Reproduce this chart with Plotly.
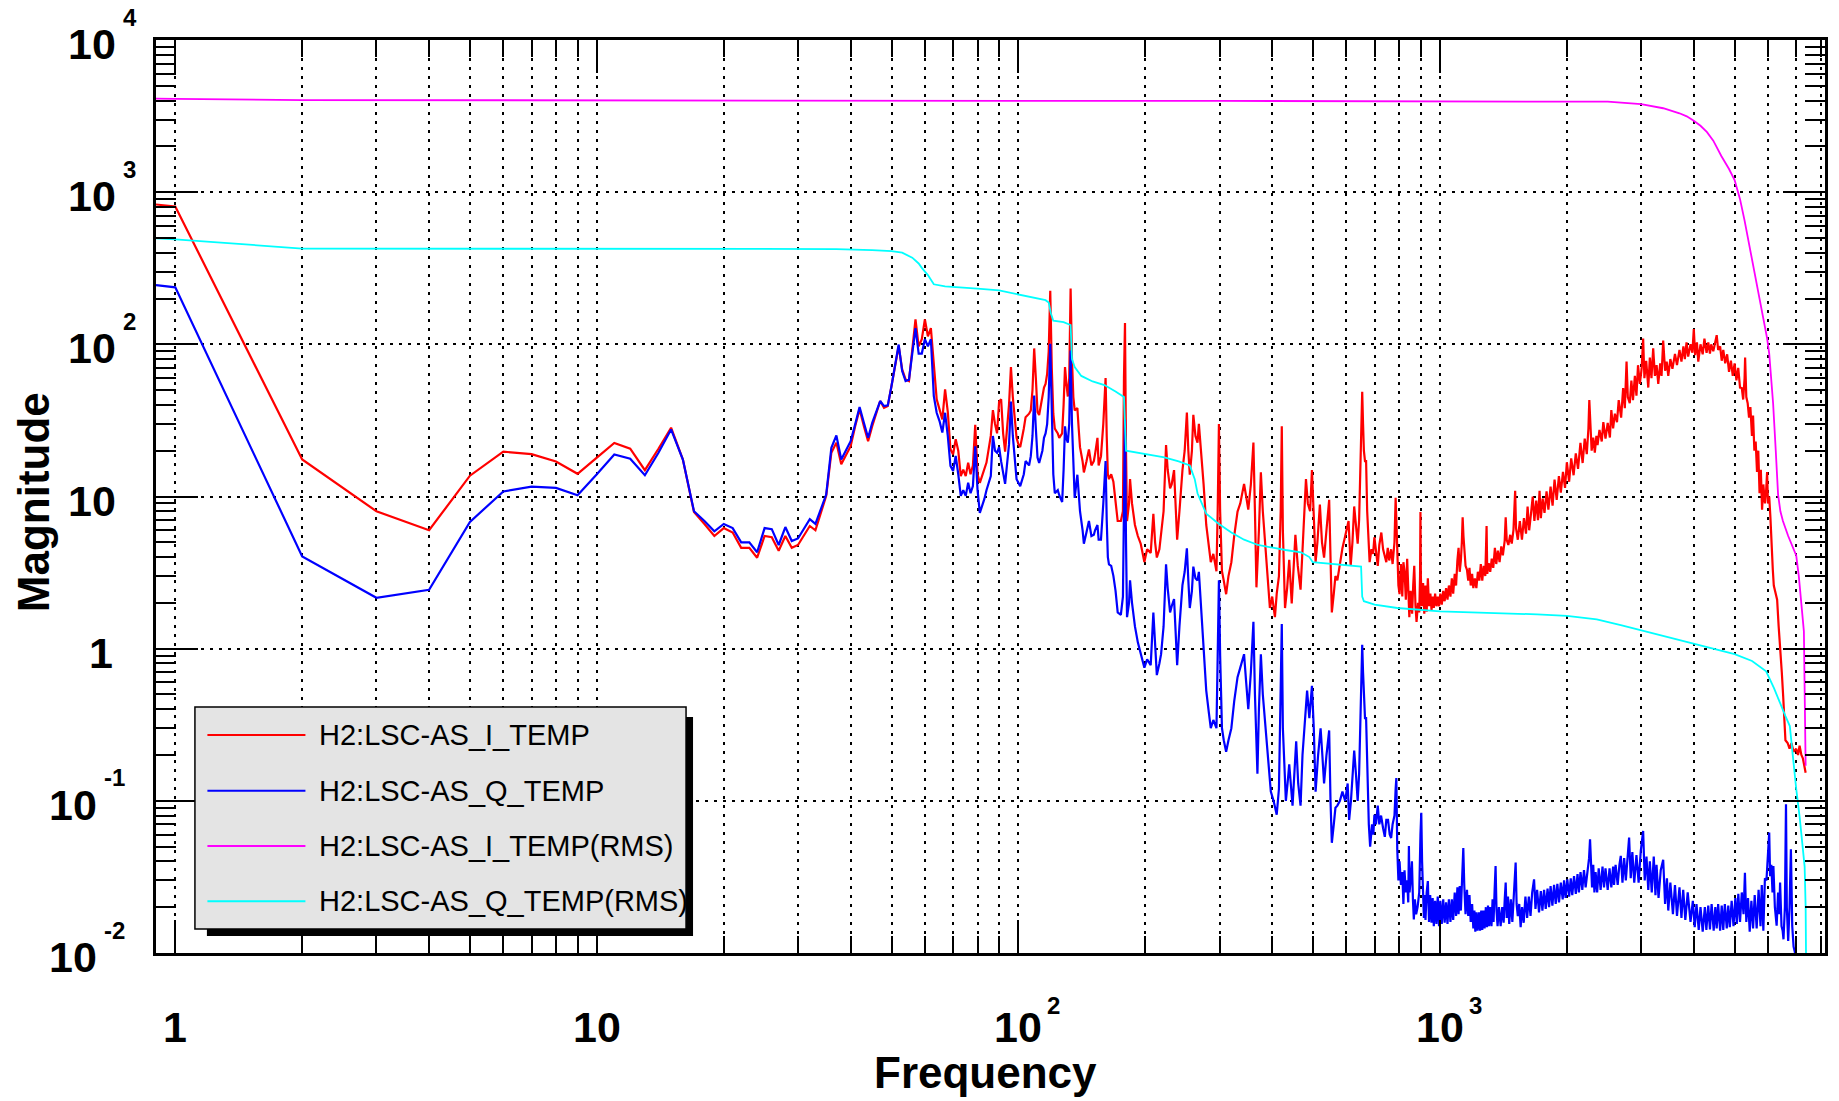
import math
import plotly.graph_objects as go

# ---------------------------------------------------------------------------
# Amplitude spectra (frequency in Hz, magnitude) for the two demodulated
# channels and their cumulative RMS curves.
# ---------------------------------------------------------------------------
spec_i = [
    (0.9, 830), (1, 805), (2, 17.5), (3, 8.0), (4, 6.0), (5, 13.7), (6, 19.7), (7, 19.0), (8, 17.0),
    (9, 14.1), (10, 18.0), (11, 22.5), (12, 20.6), (13, 14.9), (14, 20.6), (15, 28.3), (16, 17.5),
    (17, 7.9), (18, 6.6), (19, 5.5), (20, 6.2), (21, 5.8), (22, 4.6), (23, 4.6), (24, 3.96), (25, 5.5),
    (26, 5.4), (27, 4.4), (28, 5.5), (29, 4.6), (30, 4.8), (31, 5.5), (32, 6.4), (33, 6.0), (34, 7.8),
    (35, 10.1), (36, 19.4), (37, 22.6), (38, 16.3), (39, 18.9), (40, 21.4), (41, 29), (42, 37.4),
    (43, 29), (44, 23.1), (45, 29), (46, 35.5), (47, 42.4), (48, 38.3), (49, 39.3), (50, 53.2),
    (51, 73.8), (52, 97.3), (53, 68.4), (54, 58.8), (55, 57.3), (56, 92.6), (57, 146), (58, 97),
    (59, 108), (60, 146), (61, 113), (62, 128), (63, 72), (64, 43.5), (65, 37.4), (66, 32.1),
    (67, 50.6), (68, 36), (69, 20.4), (70, 18.9), (71, 23.8), (72, 20), (73, 13.6), (74, 15),
    (75, 13.6), (76, 16.7), (77, 14), (78, 16), (79, 29.6), (80, 14), (81, 12.3), (83, 15), (84, 16.7),
    (86, 25), (87, 37), (88, 30), (89, 26), (90, 42), (91, 43.5), (92, 26), (93, 19.7), (95, 40),
    (96, 71), (97, 45), (99, 24.3), (100, 22), (101, 21.1), (103, 28), (104, 33.2), (106, 35),
    (107, 36.8), (108, 50), (109, 94), (110, 60), (111, 36), (112, 34.3), (114, 45), (115, 52),
    (116, 55), (117, 64), (118, 90), (119, 225), (120, 70), (121, 35), (122, 27.9), (124, 26),
    (125, 24.3), (127, 26), (128, 40), (129, 71), (130, 55), (131, 45.4), (132, 60), (133, 233),
    (134, 80), (135, 45), (136, 36.8), (138, 38.1), (139, 28), (140, 21.1), (142, 17), (143, 14.4),
    (145, 17), (147, 20.4), (149, 16), (151, 17.1), (152, 19), (154, 24.3), (155, 16), (157, 18.4),
    (159, 30), (160, 50), (161, 60), (162, 25), (163, 14), (164, 13.0), (166, 14), (168, 12.5),
    (170, 9), (172, 6.9), (175, 6.9), (177, 8), (178, 60), (179, 138), (180, 20), (181, 6.9),
    (183, 9), (184, 13.0), (186, 9), (189, 6.5), (192, 5.5), (195, 4.9), (199, 3.71), (202, 4.5),
    (206, 4.26), (209, 7.7), (211, 5), (213, 3.97), (216, 4.5), (218, 5.6), (221, 8), (224, 21.8),
    (226, 15), (229, 11.3), (231, 12), (234, 14.9), (236, 9), (238, 5.2), (241, 8), (245, 14.9),
    (248, 20), (251, 35.6), (253, 20), (255, 13.9), (258, 20), (260, 34.4), (263, 25), (266, 22.6),
    (268, 30), (271, 21.1), (275, 12), (279, 6.5), (283, 4.5), (286, 3.7), (290, 4.2), (295, 3.23),
    (297, 8), (299, 29.9), (301, 8), (304, 3.23), (307, 2.8), (311, 2.28), (315, 3.0), (320, 3.7),
    (325, 5.5), (331, 7.96), (336, 9), (343, 12.1), (347, 10), (351, 8.2), (356, 12), (361, 22.6),
    (364, 8), (367, 2.53), (372, 6), (376, 14.4), (380, 8), (385, 4.9), (390, 3), (395, 1.85),
    (400, 2.2), (406, 1.61), (410, 2.3), (415, 3), (419, 8), (421.5, 28.9), (424, 6), (429, 1.85),
    (434, 2.5), (439, 3.84), (445, 1.98), (449, 3), (454, 5.6), (460, 3.5), (467, 2.44), (473, 5),
    (477, 9), (481, 13.0), (486, 9), (492, 8), (497, 14.9), (502, 8), (507, 3.7), (512, 5),
    (519, 8.85), (525, 5), (531, 3.97), (538, 6), (546, 9.5), (550, 4), (554, 1.73), (560, 2.3),
    (565, 3.0), (571, 2.81), (579, 3.6), (587, 4.57), (596, 5.5), (607, 6.9), (614, 3.5), (620, 5),
    (626, 8.6), (632, 6), (638, 4.9), (643, 7), (648, 15), (652, 35), (654, 48.7), (657, 30),
    (660, 20), (664, 17.1), (668, 17.1), (672, 8), (676, 5), (681, 3.7), (688, 4.5), (694, 4.2),
    (699, 5.4), (705, 4.5), (712, 3.5), (718, 4.8), (726, 5.8), (733, 4.5), (740, 4.0), (746, 3.7),
    (752, 4.6), (758, 3.8), (766, 4.5), (772, 3.6), (780, 5), (785, 9.8), (788, 7), (792, 4.1),
    (797, 2.6), (802, 2.28), (808, 3.6), (814, 2.2), (819, 3.7), (824, 3.23), (830, 2.1), (836, 3.9),
    (841, 2.0), (846, 1.61), (852, 2.4), (859, 1.7), (864, 2.6), (869, 3.5), (875, 1.9), (880, 1.5),
    (887, 2.0), (893, 1.73), (897, 3), (899, 7.9), (901, 3), (905, 1.9), (912, 2.7), (918, 1.7),
    (924, 2.6), (930, 1.75), (936, 2.9), (942, 1.9), (949, 2.3), (955, 1.8), (961, 2.2), (967, 1.85),
    (974, 2.3), (981, 1.9), (988, 2.2), (995, 1.9), (1002, 2.3), (1010, 1.95), (1018, 2.4),
    (1026, 2.05), (1034, 2.5), (1042, 2.1), (1050, 2.6), (1059, 2.2), (1067, 2.9), (1075, 2.3),
    (1084, 3.1), (1092, 2.6), (1100, 3.8), (1107, 4.6), (1114, 3.2), (1121, 3.8), (1127, 5),
    (1132, 7.3), (1137, 5.5), (1143, 4.2), (1150, 3.5), (1159, 3.3), (1167, 2.8), (1175, 3.4),
    (1183, 2.6), (1192, 3.1), (1200, 2.5), (1210, 2.9), (1220, 2.5), (1230, 3.2), (1240, 2.8),
    (1250, 3.6), (1260, 2.8), (1270, 3.5), (1281, 3.0), (1290, 6.4), (1295, 3.1), (1305, 3.65),
    (1316, 3.2), (1327, 3.9), (1338, 3.4), (1350, 4.6), (1360, 3.6), (1372, 4.4), (1385, 3.7),
    (1398, 4.7), (1410, 4.1), (1424, 5.1), (1432, 7.3), (1440, 5.2), (1453, 4.8), (1468, 5.6),
    (1480, 4.9), (1494, 6.0), (1502, 8), (1508, 10.9), (1515, 6.2), (1530, 5.2), (1547, 6.9),
    (1565, 5.2), (1582, 7.2), (1600, 5.7), (1614, 8.6), (1628, 6.0), (1645, 7.8), (1660, 10.0),
    (1675, 6.9), (1692, 9.4), (1708, 7.0), (1723, 10.9), (1735, 7.2), (1752, 9.7), (1770, 7.8),
    (1790, 10.8), (1808, 8.2), (1830, 11.6), (1850, 8.7), (1870, 12.9), (1892, 9.5), (1915, 13.6),
    (1935, 10.6), (1958, 14.5), (1980, 11.4), (2000, 16.8), (2025, 12.5), (2048, 17.8), (2075, 13.8),
    (2100, 19.2), (2126, 15.2), (2154, 22.5), (2180, 16.6), (2205, 24), (2230, 19), (2250, 28),
    (2261, 43), (2275, 26), (2290, 20), (2310, 24.4), (2330, 19.4), (2350, 25), (2365, 21.8),
    (2390, 27.4), (2420, 23), (2441, 30.8), (2470, 24), (2500, 30.5), (2530, 24.4), (2550, 37),
    (2575, 28), (2600, 35), (2630, 30.8), (2655, 43), (2690, 33), (2720, 51.6), (2745, 38),
    (2771, 77), (2790, 45), (2820, 41), (2845, 57.8), (2870, 43), (2900, 62), (2925, 46),
    (2950, 72.9), (2980, 55), (3010, 70), (3034, 109), (3055, 60), (3085, 78), (3120, 52),
    (3147, 81.8), (3175, 60), (3205, 94), (3235, 62), (3265, 72.9), (3295, 55), (3330, 75),
    (3355, 62), (3385, 106), (3420, 67), (3450, 77), (3480, 62), (3520, 80), (3560, 69),
    (3610, 86.6), (3650, 73), (3700, 92), (3740, 77), (3780, 97), (3810, 80), (3845, 103),
    (3880, 83), (3930, 100), (3970, 88), (4001, 126), (4030, 85), (4070, 103), (4100, 77),
    (4150, 100), (4200, 86), (4240, 109), (4290, 88), (4330, 103), (4370, 87), (4400, 100),
    (4450, 90), (4500, 104), (4534, 115), (4570, 92), (4620, 97), (4660, 78), (4700, 92),
    (4750, 75), (4800, 86), (4850, 66), (4900, 78), (4950, 62), (5000, 75), (5050, 58), (5100, 70),
    (5150, 52), (5200, 51.6), (5240, 43.4), (5280, 60), (5295, 81.8), (5330, 45), (5370, 41),
    (5410, 33), (5450, 38.7), (5497, 25), (5530, 34), (5570, 20), (5610, 23), (5651, 14.5),
    (5690, 20), (5730, 10.5), (5770, 15), (5809, 8.2), (5850, 12), (5900, 9), (5940, 11),
    (5971, 14.5), (6000, 9), (6040, 10), (6080, 7.3), (6120, 4.5), (6160, 3.3), (6193, 2.6),
    (6250, 2.3), (6307, 2.1), (6360, 1.4), (6424, 0.99), (6470, 0.7), (6518, 0.49), (6560, 0.35),
    (6600, 0.25), (6680, 0.24), (6750, 0.22), (6820, 0.24), (6900, 0.21), (7000, 0.22),
    (7070, 0.2), (7130, 0.23), (7200, 0.2), (7260, 0.19), (7320, 0.17), (7370, 0.153),
]

spec_q = [
    (0.9, 245), (1, 237), (2, 4.04), (3, 2.16), (4, 2.44), (5, 6.8), (6, 10.8), (7, 11.6), (8, 11.4),
    (9, 10.2), (10, 14.0), (11, 18.9), (12, 17.7), (13, 13.8), (14, 19.4), (15, 27.6), (16, 17.5),
    (17, 8.0), (18, 6.9), (19, 5.9), (20, 6.6), (21, 6.2), (22, 5.0), (23, 5.0), (24, 4.3), (25, 6.2),
    (26, 6.1), (27, 4.8), (28, 6.3), (29, 5.1), (30, 5.3), (31, 6.2), (32, 7.1), (33, 6.6), (34, 8.4),
    (35, 10.3), (36, 20.9), (37, 25.2), (38, 17.5), (39, 20.4), (40, 23.1), (41, 29.8), (42, 38.7),
    (43, 30.5), (44, 24.3), (45, 30.5), (46, 36.4), (47, 42.4), (48, 39.3), (49, 39.7), (50, 53.2),
    (51, 73.8), (52, 99.7), (53, 66.7), (54, 57.3), (55, 58.6), (56, 88), (57, 128), (58, 87),
    (59, 87), (60, 108), (61, 97), (62, 108), (63, 45.7), (64, 35.5), (65, 31.3), (66, 26.3),
    (67, 35.5), (68, 25), (69, 15.9), (70, 14.7), (71, 18.5), (72, 14), (73, 10.1), (74, 11),
    (75, 10.1), (76, 12.3), (77, 10.5), (78, 11.7), (79, 21.4), (80, 11), (81, 7.8), (83, 9.6),
    (84, 11), (86, 13.6), (87, 25), (88, 20), (89, 19.4), (90, 21.1), (91, 17), (93, 12.1), (95, 22),
    (96, 42), (97, 25), (99, 13.0), (101, 11.7), (103, 14), (104, 17.1), (106, 16), (107, 18.4),
    (108, 25), (109, 46), (110, 28), (111, 18), (112, 16.6), (114, 20), (115, 24.3), (116, 26),
    (117, 29.9), (118, 45), (119, 101), (120, 30), (121, 14), (122, 10.5), (124, 11), (125, 10.2),
    (127, 9.2), (128, 15), (129, 28.9), (130, 24), (131, 22.6), (132, 30), (133, 91), (134, 30),
    (135, 14), (136, 9.8), (138, 13.9), (139, 10), (140, 8.0), (142, 6), (143, 4.9), (145, 5.8),
    (147, 6.9), (149, 5.5), (151, 5.6), (152, 6), (154, 6.5), (155, 5.2), (157, 5.2), (159, 9),
    (160, 14), (161, 17.1), (162, 7), (163, 4), (164, 3.58), (166, 3.5), (168, 3.01), (170, 2.4),
    (172, 1.73), (175, 1.67), (177, 2.2), (178, 15), (179, 32.1), (180, 5), (181, 1.61), (183, 2.0),
    (184, 2.81), (186, 2.0), (189, 1.40), (192, 1.1), (195, 0.92), (199, 0.75), (202, 0.85),
    (206, 0.78), (209, 1.73), (211, 1.0), (213, 0.67), (216, 0.8), (218, 0.92), (221, 1.4),
    (224, 3.58), (226, 2.5), (229, 1.73), (231, 1.9), (234, 2.12), (236, 1.3), (238, 0.78),
    (241, 1.4), (245, 2.62), (248, 3.2), (251, 4.57), (253, 2.8), (255, 1.85), (258, 2.4),
    (260, 3.46), (263, 2.9), (266, 2.81), (268, 3.2), (271, 1.85), (275, 1.0), (279, 0.53),
    (283, 0.38), (286, 0.30), (290, 0.34), (295, 0.30), (297, 0.9), (299, 2.81), (301, 0.9),
    (304, 0.30), (307, 0.25), (311, 0.21), (315, 0.25), (320, 0.30), (325, 0.45), (331, 0.65),
    (336, 0.75), (343, 0.92), (347, 0.6), (351, 0.40), (356, 0.7), (361, 1.50), (364, 0.5),
    (369, 0.151), (372, 0.4), (376, 0.92), (380, 0.5), (385, 0.325), (390, 0.2), (397, 0.115),
    (403, 0.1), (410, 0.081), (415, 0.12), (419, 0.5), (421.5, 1.45), (424, 0.3), (431, 0.100),
    (435, 0.13), (439, 0.174), (447, 0.093), (451, 0.15), (456, 0.246), (461, 0.13), (467, 0.093),
    (472, 0.2), (478, 0.35), (484, 0.53), (490, 0.35), (497, 0.57), (502, 0.3), (507, 0.115),
    (514, 0.2), (521, 0.30), (526, 0.2), (531, 0.13), (538, 0.2), (546, 0.29), (550, 0.1),
    (554, 0.053), (560, 0.07), (565, 0.09), (571, 0.093), (579, 0.1), (587, 0.115), (596, 0.1),
    (604, 0.13), (609, 0.075), (615, 0.1), (620, 0.15), (626, 0.214), (632, 0.15), (638, 0.100),
    (643, 0.15), (648, 0.4), (652, 0.8), (654, 1.06), (657, 0.7), (661, 0.45), (664, 0.35),
    (668, 0.35), (674, 0.12), (678, 0.07), (683, 0.050), (690, 0.07), (695, 0.06), (699, 0.081),
    (705, 0.07), (712, 0.093), (718, 0.07), (725, 0.08), (733, 0.066), (740, 0.058), (746, 0.075),
    (753, 0.075), (760, 0.06), (766, 0.057), (772, 0.07), (780, 0.08), (785, 0.12), (788, 0.141),
    (792, 0.048), (797, 0.03), (802, 0.040), (808, 0.028), (814, 0.034), (819, 0.021), (824, 0.035),
    (830, 0.025), (836, 0.03), (841, 0.0215), (844, 0.0505), (847, 0.025), (852, 0.03), (858, 0.040),
    (863, 0.022), (867, 0.0166), (872, 0.0225), (878, 0.018), (885, 0.020), (893, 0.025), (899, 0.06),
    (903, 0.0836), (907, 0.04), (912, 0.02), (916, 0.017), (920, 0.024), (924, 0.0165), (930, 0.025),
    (936, 0.0297), (942, 0.016), (948, 0.024), (955, 0.0158), (961, 0.023), (967, 0.015),
    (974, 0.022), (981, 0.0155), (988, 0.0235), (995, 0.015), (1002, 0.022), (1010, 0.0155),
    (1018, 0.0225), (1026, 0.0158), (1034, 0.0215), (1042, 0.0155), (1050, 0.0225), (1059, 0.016),
    (1067, 0.0225), (1075, 0.0165), (1084, 0.025), (1092, 0.0175), (1100, 0.027), (1107, 0.018),
    (1114, 0.0275), (1121, 0.019), (1128, 0.03), (1136, 0.049), (1142, 0.028), (1150, 0.018),
    (1159, 0.026), (1167, 0.0175), (1175, 0.024), (1183, 0.016), (1192, 0.021), (1200, 0.0145),
    (1207, 0.019), (1213, 0.0138), (1220, 0.0185), (1228, 0.014), (1237, 0.0185), (1245, 0.014),
    (1253, 0.019), (1260, 0.0142), (1268, 0.019), (1276, 0.0145), (1285, 0.02), (1293, 0.0148),
    (1300, 0.0205), (1307, 0.015), (1316, 0.02), (1325, 0.015), (1333, 0.0225), (1340, 0.016),
    (1348, 0.026), (1355, 0.0373), (1362, 0.019), (1370, 0.015), (1380, 0.02), (1393, 0.015),
    (1405, 0.02), (1416, 0.0158), (1425, 0.023), (1432, 0.029), (1440, 0.017), (1450, 0.0235),
    (1460, 0.0155), (1473, 0.0225), (1485, 0.016), (1497, 0.023), (1505, 0.028), (1512, 0.0393),
    (1520, 0.021), (1530, 0.0175), (1542, 0.021), (1554, 0.0148), (1566, 0.02), (1580, 0.0158),
    (1595, 0.0235), (1610, 0.017), (1625, 0.0235), (1640, 0.0175), (1655, 0.025), (1665, 0.028),
    (1672, 0.0305), (1685, 0.0195), (1700, 0.026), (1718, 0.0185), (1735, 0.0255), (1750, 0.019),
    (1766, 0.026), (1782, 0.0195), (1800, 0.0265), (1815, 0.02), (1830, 0.0275), (1848, 0.0205),
    (1865, 0.028), (1882, 0.021), (1899, 0.0285), (1916, 0.0215), (1935, 0.029), (1955, 0.0225),
    (1970, 0.03), (1986, 0.023), (2005, 0.0305), (2025, 0.0235), (2043, 0.031), (2060, 0.024),
    (2080, 0.032), (2100, 0.0245), (2120, 0.033), (2136, 0.025), (2155, 0.034), (2176, 0.026),
    (2196, 0.035), (2216, 0.027), (2240, 0.036), (2258, 0.042), (2270, 0.0558), (2282, 0.036),
    (2295, 0.027), (2310, 0.038), (2325, 0.025), (2340, 0.034), (2360, 0.025), (2380, 0.036),
    (2405, 0.026), (2430, 0.037), (2450, 0.027), (2470, 0.036), (2500, 0.026), (2525, 0.036),
    (2550, 0.027), (2575, 0.037), (2588, 0.028), (2610, 0.038), (2640, 0.028), (2665, 0.038),
    (2685, 0.0435), (2710, 0.029), (2735, 0.042), (2760, 0.03), (2790, 0.045), (2810, 0.0573),
    (2835, 0.031), (2860, 0.046), (2890, 0.029), (2925, 0.044), (2960, 0.029), (2995, 0.047),
    (3034, 0.0634), (3060, 0.03), (3090, 0.043), (3120, 0.026), (3147, 0.04), (3180, 0.025),
    (3215, 0.043), (3245, 0.024), (3264, 0.038), (3300, 0.023), (3340, 0.035), (3385, 0.041),
    (3420, 0.021), (3455, 0.031), (3480, 0.019), (3520, 0.029), (3570, 0.018), (3610, 0.028),
    (3650, 0.0175), (3700, 0.027), (3740, 0.017), (3776, 0.026), (3820, 0.0165), (3870, 0.025),
    (3930, 0.016), (3980, 0.022), (4021, 0.0148), (4060, 0.021), (4110, 0.0142), (4150, 0.02),
    (4200, 0.0138), (4250, 0.02), (4285, 0.0142), (4330, 0.0205), (4370, 0.0143), (4410, 0.021),
    (4460, 0.014), (4500, 0.02), (4534, 0.0145), (4570, 0.021), (4620, 0.014), (4660, 0.0205),
    (4700, 0.0142), (4740, 0.021), (4790, 0.0145), (4830, 0.0205), (4870, 0.0148), (4920, 0.022),
    (4970, 0.015), (5020, 0.023), (5060, 0.0155), (5102, 0.0245), (5150, 0.016), (5200, 0.025),
    (5250, 0.018), (5290, 0.0337), (5330, 0.016), (5380, 0.023), (5430, 0.0138), (5480, 0.022),
    (5530, 0.0145), (5580, 0.024), (5640, 0.0145), (5700, 0.026), (5760, 0.015), (5800, 0.028),
    (5850, 0.014), (5900, 0.031), (5950, 0.03), (5990, 0.04), (6040, 0.0618), (6070, 0.032),
    (6110, 0.038), (6150, 0.025), (6180, 0.0373), (6230, 0.02), (6290, 0.0151), (6340, 0.025),
    (6380, 0.018), (6410, 0.029), (6460, 0.015), (6500, 0.014), (6530, 0.0123), (6580, 0.02),
    (6620, 0.095), (6650, 0.02), (6700, 0.012), (6750, 0.02), (6800, 0.048), (6850, 0.015),
    (6900, 0.011), (6950, 0.0101), (7010, 0.0085),
]

rms_i = [
    (0.9, 4120), (1, 4100), (2, 4030), (5, 4010), (10, 4000), (30, 3990), (100, 3985), (300, 3980),
    (1000, 3975), (2000, 3965), (2500, 3930), (3000, 3790), (3385, 3560), (3700, 3300),
    (3850, 3150), (4000, 2950), (4150, 2730), (4300, 2480), (4450, 2180), (4650, 1730),
    (4850, 1420), (5000, 1200), (5150, 900), (5280, 650), (5450, 410), (5630, 255), (5840, 146),
    (5970, 110), (6040, 87), (6170, 41), (6260, 20), (6340, 10.3), (6420, 8.0), (6510, 6.9),
    (6700, 5.5), (7000, 4.1), (7100, 3.0), (7190, 2.05), (7300, 1.3), (7370, 0.17),
]

rms_q = [
    (0.9, 497), (1, 490), (2, 426), (5, 425), (10, 425), (20, 425), (30, 424), (37, 423), (45, 416),
    (50, 410), (53, 400), (56, 371), (58, 340), (59, 318), (61, 285), (63, 248), (67, 240), (71, 238),
    (80, 232), (90, 226), (98, 215), (105, 208), (111, 202), (116, 195), (118, 188), (119.4, 160),
    (121, 143), (128, 140), (133, 134), (134, 80), (136, 71), (141, 62), (150, 57), (160, 54),
    (170, 49), (178, 45), (180, 20), (200, 19), (222, 18.1), (240, 17), (255, 16), (262, 13),
    (266, 10.5), (279, 7.7), (299, 6.6), (320, 5.8), (343, 5.2), (370, 4.8), (400, 4.6), (430, 4.45),
    (468, 4.3), (490, 4.0), (499, 3.7), (551, 3.6), (600, 3.52), (650, 3.46), (654, 2.2), (660, 2.05),
    (700, 1.95), (792, 1.85), (1000, 1.76), (1367, 1.72), (1700, 1.68), (2000, 1.64), (2355, 1.56),
    (2700, 1.42), (3000, 1.32), (3500, 1.18), (4000, 1.07), (4500, 0.99), (5000, 0.92), (5500, 0.83),
    (5940, 0.71), (6200, 0.55), (6400, 0.44), (6600, 0.36), (6760, 0.31), (6880, 0.187), (7000, 0.12),
    (7130, 0.079), (7250, 0.05), (7330, 0.037), (7370, 0.02), (7400, 0.005),
]

series_names = ["H2:LSC-AS_I_TEMP", "H2:LSC-AS_Q_TEMP",
                "H2:LSC-AS_I_TEMP(RMS)", "H2:LSC-AS_Q_TEMP(RMS)"]
series_colors = ["#ff0000", "#0000ff", "#ff00ff", "#00ffff"]
series_widths = [2.2, 2.2, 1.8, 1.8]
series_data = [spec_i, spec_q, rms_i, rms_q]

# axis ticks (decades carry labels, 2..9 are minor)
x_decades = [1, 10, 100, 1000]
x_base_text = ["1", "10", "10", "10"]
x_exp_text = ["", "", "2", "3"]
y_decades = [0.01, 0.1, 1, 10, 100, 1000, 10000]
y_base_text = ["10", "10", "1", "10", "10", "10", "10"]
y_exp_text = ["-2", "-1", "", "", "2", "3", "4"]

X_MIN, X_MAX = 0.9, 8192.0
Y_MIN, Y_MAX = 0.01, 10000.0

# ---------------------------------------------------------------------------
W, H = 1839, 1101
PL, PR, PT, PB = 156, 1828, 40, 953          # plot frame in page pixels
FONT = "Liberation Sans, Arial, Helvetica, sans-serif"


def paper_x(px):
    return (px - PL) / (PR - PL)


def paper_y(py):
    return (PB - py) / (PB - PT)


fig = go.Figure()
for name, color, width, pts in zip(series_names, series_colors, series_widths, series_data):
    fx = [p[0] for p in pts]
    fy = [p[1] for p in pts]
    fig.add_trace(go.Scatter(x=fx, y=fy, mode="lines", name=name,
                             line=dict(color=color, width=width), showlegend=False,
                             hoverinfo="skip"))


def minor_values(decades, lo, hi):
    vals = []
    for d in decades:
        for k in range(2, 10):
            v = d * k
            if lo < v < hi:
                vals.append(v)
    return vals


x_minor = minor_values([0.1] + x_decades, X_MIN, X_MAX)
y_minor = minor_values(y_decades, Y_MIN, Y_MAX)

grid = dict(gridcolor="black", gridwidth=1.6, griddash="3px,6px")

fig.update_xaxes(
    type="log", range=[math.log10(X_MIN), math.log10(X_MAX)],
    tickmode="array", tickvals=x_decades, showticklabels=False,
    ticks="inside", ticklen=33, tickwidth=2, tickcolor="black",
    showgrid=True, **grid,
    showline=True, linewidth=3, linecolor="black", mirror="allticks",
    minor=dict(tickmode="array", tickvals=x_minor, ticks="inside", ticklen=17,
               tickwidth=2, tickcolor="black", showgrid=True, **grid),
    zeroline=False,
)
fig.update_yaxes(
    type="log", range=[math.log10(Y_MIN), math.log10(Y_MAX)],
    tickmode="array", tickvals=y_decades, showticklabels=False,
    ticks="inside", ticklen=42, tickwidth=2, tickcolor="black",
    showgrid=True, **grid,
    showline=True, linewidth=3, linecolor="black", mirror="allticks",
    minor=dict(tickmode="array", tickvals=y_minor, ticks="inside", ticklen=20,
               tickwidth=2, tickcolor="black", showgrid=False),
    zeroline=False,
)

annotations = []
label_font = dict(family=FONT, size=43, color="black", weight="bold")
exp_font = dict(family=FONT, size=24, color="black", weight="bold")

# x tick labels
for v, base, ex in zip(x_decades, x_base_text, x_exp_text):
    annotations.append(dict(x=math.log10(v), xref="x", y=0, yref="paper",
                            text=base, showarrow=False, font=label_font,
                            xanchor="center", yanchor="middle", yshift=-74))
    if ex:
        annotations.append(dict(x=math.log10(v), xref="x", y=0, yref="paper",
                                text=ex, showarrow=False, font=exp_font,
                                xanchor="left", yanchor="middle",
                                xshift=27, yshift=-52))

# y tick labels
for v, base, ex in zip(y_decades, y_base_text, y_exp_text):
    if ex.startswith("-"):
        right = 99
    elif base == "1":
        right = 115
    else:
        right = 118
    annotations.append(dict(x=0, xref="paper", y=math.log10(v), yref="y",
                            text=base, showarrow=False, font=label_font,
                            xanchor="right", yanchor="middle",
                            xshift=right - PL, yshift=-4))
    if ex:
        annotations.append(dict(x=0, xref="paper", y=math.log10(v), yref="y",
                                text=ex, showarrow=False, font=exp_font,
                                xanchor="left", yanchor="middle",
                                xshift=right + 3 - PL, yshift=23))

# axis titles
title_font = dict(family=FONT, size=44, color="black", weight="bold")
annotations.append(dict(x=paper_x(987), xref="paper", y=paper_y(1072), yref="paper",
                        text="Frequency", showarrow=False, font=title_font,
                        xanchor="center", yanchor="middle"))
annotations.append(dict(x=paper_x(33), xref="paper", y=paper_y(502), yref="paper",
                        text="Magnitude", showarrow=False, font=title_font, textangle=-90,
                        xanchor="center", yanchor="middle"))

# legend box with drop shadow
shapes = [
    dict(type="rect", xref="paper", yref="paper",
         x0=paper_x(207), x1=paper_x(694), y0=paper_y(936), y1=paper_y(717),
         fillcolor="black", line=dict(width=0), layer="above"),
    dict(type="rect", xref="paper", yref="paper",
         x0=paper_x(195), x1=paper_x(687), y0=paper_y(929), y1=paper_y(707),
         fillcolor="#e4e4e4", line=dict(color="black", width=1.5), layer="above"),
]
legend_rows = [735, 790.7, 846, 901.3]
legend_font = dict(family=FONT, size=29, color="black")
for row, name, color in zip(legend_rows, series_names, series_colors):
    shapes.append(dict(type="line", xref="paper", yref="paper",
                       x0=paper_x(207.5), x1=paper_x(305.7), y0=paper_y(row), y1=paper_y(row),
                       line=dict(color=color, width=2), layer="above"))
    annotations.append(dict(x=paper_x(317), xref="paper", y=paper_y(row), yref="paper",
                            text=name, showarrow=False, font=legend_font,
                            xanchor="left", yanchor="middle"))

fig.update_layout(
    width=W, height=H,
    margin=dict(l=PL, r=W - PR, t=PT, b=H - PB, pad=0),
    paper_bgcolor="white", plot_bgcolor="white",
    showlegend=False,
    annotations=annotations, shapes=shapes,
    font=dict(family=FONT),
)

fig.write_html("out.html")
